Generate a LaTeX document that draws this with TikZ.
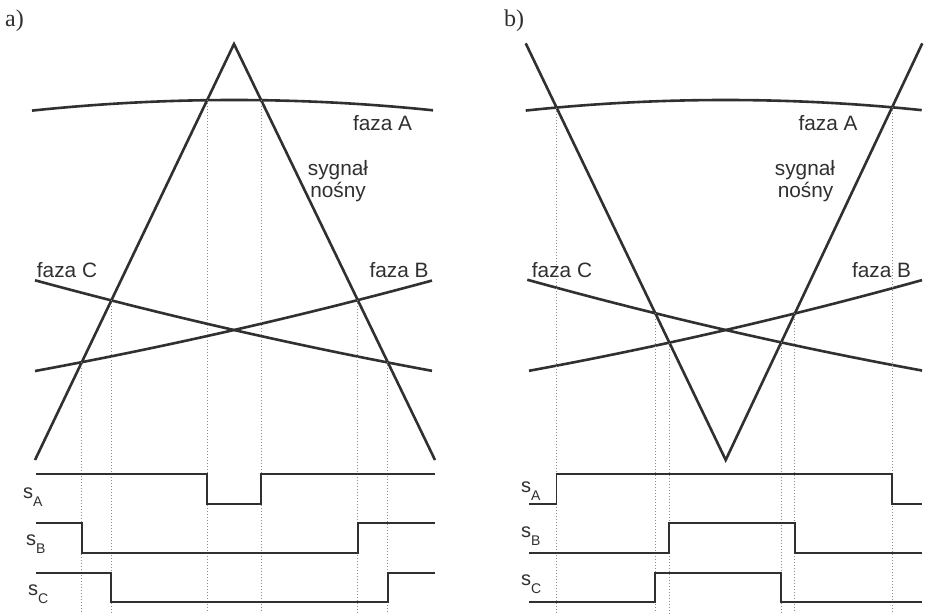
\documentclass[tikz,border=0pt]{standalone}
\usepackage{fontspec}
\setmainfont{Liberation Sans}
\newfontfamily\panelfont{Liberation Serif}
\usetikzlibrary{intersections}
\definecolor{ink}{RGB}{48,48,48}
\definecolor{dotgray}{RGB}{140,140,140}
\newcommand{\siglabel}[1]{s\raisebox{-8pt}{\fontsize{14}{14}\selectfont #1}}
\begin{document}
\begin{tikzpicture}[x=1pt,y=-1pt,
  thickline/.style={draw=ink,line width=2.6pt},
  waveline/.style={draw=ink,line width=1.8pt},
  dotline/.style={draw=dotgray,line width=0.8pt,dash pattern=on 1pt off 2pt},
  lbl/.style={text=ink,font=\fontsize{20.8}{22}\selectfont,inner sep=0pt,anchor=base},
  siglbl/.style={text=ink,font=\fontsize{20}{22}\selectfont,inner sep=0pt,anchor=base west},
  panellbl/.style={text=ink,font=\panelfont\fontsize{24}{26}\selectfont,inner sep=0pt,anchor=base west}]
\useasboundingbox (0,0) rectangle (928,613);
\fill[white] (0,0) rectangle (928,613);
% level coordinates
\coordinate (bot) at (0,613);
\coordinate (ah) at (0,474); \coordinate (al) at (0,504);
\coordinate (bh) at (0,523); \coordinate (bl) at (0,553);
\coordinate (ch) at (0,573); \coordinate (cl) at (0,602);

% ---------------- panel a ----------------
\node[panellbl] (pa) at (5,26) {a)};
\draw[thickline,name path=carA] (35,460) -- (234,44) -- (435,460);
\draw[thickline,name path=phAa] plot[domain=-202:199,samples=81] ({234+\x},{100+2.6*(\x/100)*(\x/100)});
\draw[thickline,name path=phCa] plot[domain=-199:198,samples=81] ({234+\x},{330+0.228*\x-1.1*(\x/100)*(\x/100)});
\draw[thickline,name path=phBa] plot[domain=-199:198,samples=81] ({234+\x},{330-0.228*\x-1.1*(\x/100)*(\x/100)});
\path[name intersections={of=carA and phAa, name=aA, sort by=carA}];
\path[name intersections={of=carA and phBa, name=aB, sort by=carA}];
\path[name intersections={of=carA and phCa, name=aC, sort by=carA}];
\foreach \p in {aA-1,aA-2,aB-1,aB-2,aC-1,aC-2}{\draw[dotline] (\p) -- (\p |- bot);}
\draw[waveline] (36,474) -- (aA-1 |- ah) -- (aA-1 |- al) -- (aA-2 |- al) -- (aA-2 |- ah) -- (435,474);
\draw[waveline] (36,523) -- (aB-1 |- bh) -- (aB-1 |- bl) -- (aB-2 |- bl) -- (aB-2 |- bh) -- (435,523);
\draw[waveline] (36,573) -- (aC-1 |- ch) -- (aC-1 |- cl) -- (aC-2 |- cl) -- (aC-2 |- ch) -- (435,573);
\node[lbl] (faAa) at (382.5,130) {faza A};
\node[lbl] (syga) at (338,175) {sygnał};
\node[lbl] (nosa) at (338,197) {nośny};
\node[lbl] (faCa) at (67,277) {faza C};
\node[lbl] (faBa) at (399,277) {faza B};
\node[siglbl] (sAa) at (23,498) {\siglabel{A}};
\node[siglbl] (sBa) at (26,545) {\siglabel{B}};
\node[siglbl] (sCa) at (28,595) {\siglabel{C}};

% ---------------- panel b ----------------
\node[panellbl] (pb) at (504,26) {b)};
\draw[thickline,name path=carB] (525.7,43.3) -- (725.7,460) -- (922.3,43.3);
\draw[thickline,name path=phAb] plot[domain=-200:196,samples=81] ({725.7+\x},{100+2.64*(\x/100)*(\x/100)});
\draw[thickline,name path=phCb] plot[domain=-198.4:196.3,samples=81] ({725.7+\x},{330+0.2298*\x-1.19*(\x/100)*(\x/100)});
\draw[thickline,name path=phBb] plot[domain=-196.7:196.3,samples=81] ({725.7+\x},{330-0.2308*\x-1.19*(\x/100)*(\x/100)});
\path[name intersections={of=carB and phAb, name=bA, sort by=carB}];
\path[name intersections={of=carB and phBb, name=bB, sort by=carB}];
\path[name intersections={of=carB and phCb, name=bC, sort by=carB}];
\foreach \p in {bA-1,bA-2,bB-1,bB-2,bC-1,bC-2}{\draw[dotline] (\p) -- (\p |- bot);}
\draw[waveline] (529,504) -- (bA-1 |- al) -- (bA-1 |- ah) -- (bA-2 |- ah) -- (bA-2 |- al) -- (922,504);
\draw[waveline] (529,553) -- (bB-1 |- bl) -- (bB-1 |- bh) -- (bB-2 |- bh) -- (bB-2 |- bl) -- (922,553);
\draw[waveline] (529,602) -- (bC-1 |- cl) -- (bC-1 |- ch) -- (bC-2 |- ch) -- (bC-2 |- cl) -- (922,602);
\node[lbl] (faAb) at (828,130) {faza A};
\node[lbl] (sygb) at (805,175) {sygnał};
\node[lbl] (nosb) at (805.5,197) {nośny};
\node[lbl] (faCb) at (562,277) {faza C};
\node[lbl] (faBb) at (881.5,277) {faza B};
\node[siglbl] (sAb) at (521,492) {\siglabel{A}};
\node[siglbl] (sBb) at (521,537) {\siglabel{B}};
\node[siglbl] (sCb) at (521,585) {\siglabel{C}};
\end{tikzpicture}
\end{document}
